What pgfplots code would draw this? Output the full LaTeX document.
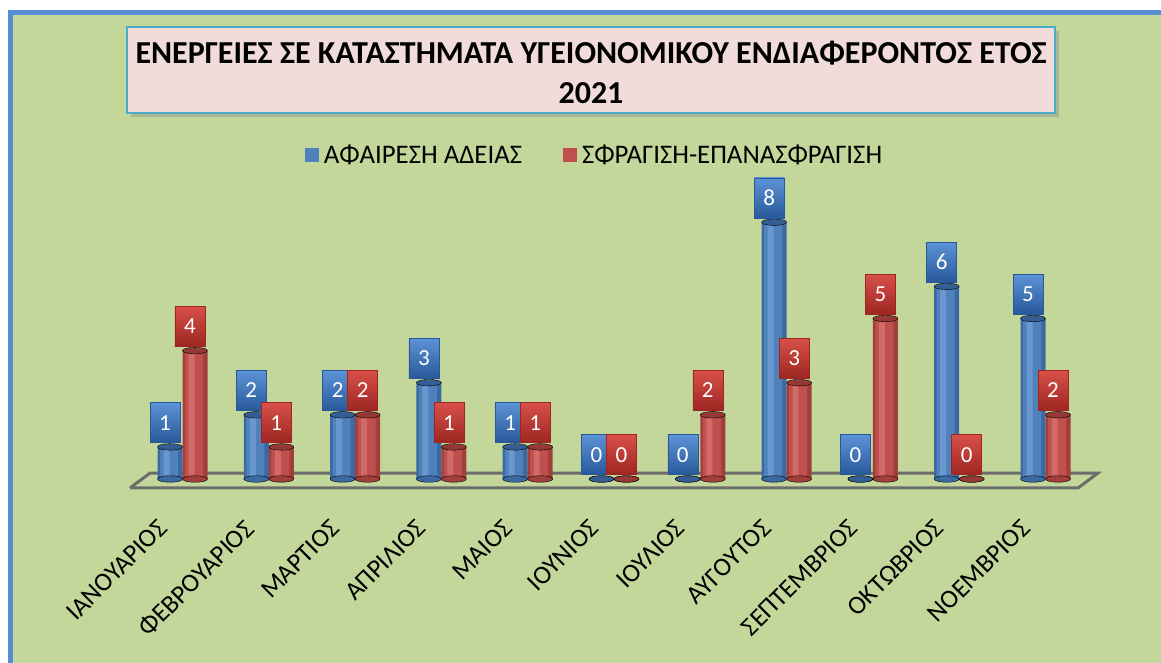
\documentclass[border=0pt]{standalone}
\usepackage{pgfplots}
\usepackage{pgfplotstable}
\pgfplotsset{compat=1.18}
\usepackage{fontspec}
\setmainfont{Carlito}
\definecolor{bg}{HTML}{C4D79B}
\definecolor{frameblue}{HTML}{558ED5}
\definecolor{titlefill}{HTML}{F2DCDB}
\definecolor{titleborder}{HTML}{4BACC6}
\definecolor{bmid}{HTML}{4F81BD}
\definecolor{bedge}{HTML}{3B6AA3}
\definecolor{blight}{HTML}{7DA6DA}
\definecolor{btop}{HTML}{355F93}
\definecolor{rmid}{HTML}{C0504D}
\definecolor{redge}{HTML}{A23F3C}
\definecolor{rlight}{HTML}{DB7D7A}
\definecolor{rtop}{HTML}{943936}
\definecolor{lblight}{HTML}{5C93D6}
\definecolor{lbdark}{HTML}{28599A}
\definecolor{lrlight}{HTML}{D8504A}
\definecolor{lrdark}{HTML}{9E2622}
\pgfplotstableread{
idx a b
0 1 4
1 2 1
2 2 2
3 3 1
4 1 1
5 0 0
6 0 2
7 8 3
8 0 5
9 6 0
10 5 2
}\data
\begin{document}
\begin{tikzpicture}[x=1pt,y=1pt]
\path[use as bounding box] (0,0) rectangle (1161,662);
\draw[line width=5pt, draw=frameblue, fill=bg] (10.5,-30) rectangle (1200,649.5);
\fill[black!45, opacity=0.45] (131,545) rectangle (1059,631);
\draw[line width=2pt, draw=titleborder, fill=titlefill] (127,549) rectangle (1055,635);
\node[font=\fontsize{32}{40}\selectfont\bfseries, align=center] at (591,590) {ΕΝΕΡΓΕΙΕΣ ΣΕ ΚΑΤΑΣΤΗΜΑΤΑ ΥΓΕΙΟΝΟΜΙΚΟΥ ΕΝΔΙΑΦΕΡΟΝΤΟΣ ΕΤΟΣ\\2021};
\begin{axis}[
  at={(139.35pt,183pt)}, anchor=south west,
  scale only axis, x=86.3pt, y=32.1pt,
  xmin=-0.5, xmax=10.5, ymin=0, ymax=9,
  clip=false,
  axis line style={draw=none},
  tick style={draw=none},
  ytick=\empty,
  xtick={0,...,10},
  xticklabels={ΙΑΝΟΥΑΡΙΟΣ,ΦΕΒΡΟΥΑΡΙΟΣ,ΜΑΡΤΙΟΣ,ΑΠΡΙΛΙΟΣ,ΜΑΙΟΣ,ΙΟΥΝΙΟΣ,ΙΟΥΛΙΟΣ,ΑΥΓΟΥΤΟΣ,ΣΕΠΤΕΜΒΡΙΟΣ,ΟΚΤΩΒΡΙΟΣ,ΝΟΕΜΒΡΙΟΣ},
  xticklabel style={xshift=-26pt, yshift=-34pt, rotate=45, anchor=north east, font=\fontsize{26}{26}\selectfont},
  /pgf/number format/assume math mode=true,
  legend style={at={(0.481,1.1215)}, anchor=center, draw=none, fill=none,
    legend columns=2, font=\fontsize{26.8}{27}\selectfont,
    nodes={inner xsep=5pt},
    /tikz/every even column/.append style={column sep=36pt}},
]
% floor
\addplot[draw=gray!85!black, line width=3pt, forget plot] coordinates {(-0.608,-0.28) (-0.375,0.187) (10.608,0.187) (10.377,-0.28) (-0.608,-0.28)};
% blue series
\addplot[only marks, mark=*, mark size=12.5pt, mark options={draw=none, fill=bedge, yscale=0.26}, forget plot] table[x expr=\thisrow{idx}-0.1448, y expr=0] {\data};
\addplot[ybar, bar width=25pt, bar shift=-12.5pt, draw=none, fill=bedge,
  legend image code/.code={\fill[bmid] (0pt,-7pt) rectangle (14pt,7pt);}]
  table[x=idx, y=a] {\data};
\addlegendentry{ΑΦΑΙΡΕΣΗ ΑΔΕΙΑΣ}
\addplot[ybar, bar width=18pt, bar shift=-13.5pt, draw=none, fill=bmid, forget plot] table[x=idx, y=a] {\data};
\addplot[ybar, bar width=6pt, bar shift=-16pt, draw=none, fill=blight, fill opacity=0.6, forget plot] table[x=idx, y=a] {\data};
\addplot[only marks, mark=*, mark size=12.5pt, mark options={draw=none, fill=btop, yscale=0.26}, forget plot] table[x expr=\thisrow{idx}-0.1448, y=a] {\data};
% red series
\addplot[only marks, mark=*, mark size=12.5pt, mark options={draw=none, fill=redge, yscale=0.26}, forget plot] table[x expr=\thisrow{idx}+0.1448, y expr=0] {\data};
\addplot[ybar, bar width=25pt, bar shift=12.5pt, draw=none, fill=redge,
  legend image code/.code={\fill[rmid] (0pt,-7pt) rectangle (14pt,7pt);}]
  table[x=idx, y=b] {\data};
\addlegendentry{ΣΦΡΑΓΙΣΗ-ΕΠΑΝΑΣΦΡΑΓΙΣΗ}
\addplot[ybar, bar width=18pt, bar shift=11.5pt, draw=none, fill=rmid, forget plot] table[x=idx, y=b] {\data};
\addplot[ybar, bar width=6pt, bar shift=9pt, draw=none, fill=rlight, fill opacity=0.6, forget plot] table[x=idx, y=b] {\data};
\addplot[only marks, mark=*, mark size=12.5pt, mark options={draw=none, fill=rtop, yscale=0.26}, forget plot] table[x expr=\thisrow{idx}+0.1448, y=b] {\data};
% labels
\addplot[only marks, mark=none, forget plot,
  nodes near coords,
  nodes near coords style={anchor=south, yshift=4pt, xshift=-5pt,
    minimum width=30pt, minimum height=40pt, inner sep=0pt,
    text=white, font=\fontsize{23}{23}\selectfont,
    top color=lblight, bottom color=lbdark, draw=lbdark, line width=0.6pt}]
  table[x expr=\thisrow{idx}-0.1448, y=a] {\data};
\addplot[only marks, mark=none, forget plot,
  nodes near coords,
  nodes near coords style={anchor=south, yshift=4pt, xshift=-5pt,
    minimum width=30pt, minimum height=40pt, inner sep=0pt,
    text=white, font=\fontsize{23}{23}\selectfont,
    top color=lrlight, bottom color=lrdark, draw=lrdark, line width=0.6pt}]
  table[x expr=\thisrow{idx}+0.1448, y=b] {\data};
\end{axis}
\end{tikzpicture}
\end{document}
